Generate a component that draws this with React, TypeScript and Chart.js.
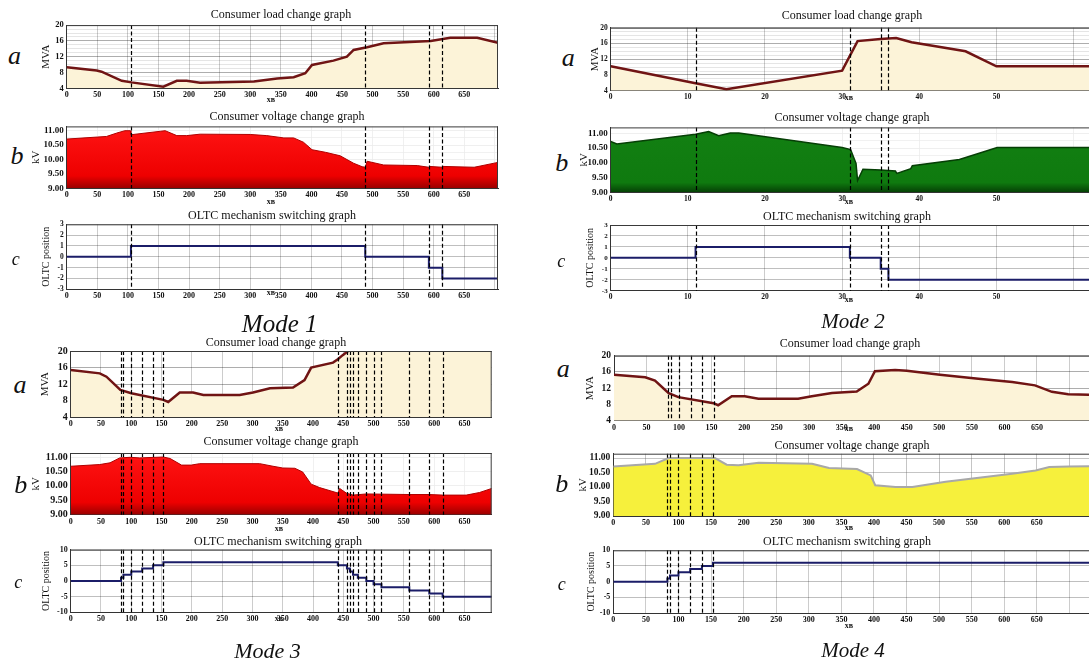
import React, { useEffect, useRef } from "react";
import { Chart, registerables } from "chart.js";

Chart.register(...registerables);

const SERIF = "'Liberation Serif', 'Times New Roman', serif";

// ===== Mode 1 =====
const m1LoadX = [0, 49, 57, 90, 106, 158, 180, 196, 218, 306, 344, 371, 390, 401, 436, 458, 469, 491, 518, 595, 627, 671, 705];
const m1LoadY = [9.3, 8.5, 8.2, 5.9, 5.5, 4.4, 5.9, 5.9, 5.4, 5.7, 6.5, 6.8, 7.8, 9.9, 11.0, 12.0, 13.7, 14.4, 15.4, 16.0, 16.8, 16.8, 15.5];
const m1VoltX = [0, 50, 65, 82, 95, 104, 105, 153, 161, 180, 196, 218, 300, 327, 355, 371, 387, 401, 423, 447, 469, 483, 488, 491, 518, 573, 592, 593, 614, 615, 666, 705];
const m1VoltY = [10.71, 10.78, 10.8, 10.92, 11.0, 11.0, 10.86, 10.98, 11.0, 10.83, 10.83, 10.88, 10.87, 10.83, 10.75, 10.75, 10.6, 10.34, 10.25, 10.13, 9.87, 9.75, 9.73, 9.94, 9.81, 9.79, 9.73, 9.76, 9.73, 9.76, 9.73, 9.9];
const m1Switch = [105, 488, 592, 614];
const m1Tap = [1, 0, -1, -2];

// ===== Mode 2 =====
const m2LoadX = [0, 11, 15, 30, 32, 35, 37, 39, 46, 50, 62];
const m2LoadY = [10.2, 5.9, 4.4, 9.1, 16.6, 17.1, 17.4, 16.3, 14.0, 10.2, 10.2];
const m2VoltX = [0, 0.8, 11, 12.7, 14, 15.5, 16.6, 30, 31.1, 31.8, 32, 32.7, 35, 36.9, 37.1, 38.9, 39.1, 45.2, 50.1, 62];
const m2VoltY = [10.72, 10.64, 10.97, 11.06, 10.92, 11.01, 11.01, 10.52, 10.45, 9.98, 9.4, 9.78, 9.76, 9.72, 9.64, 9.8, 9.9, 10.11, 10.52, 10.52];
const m2Switch = [11, 31, 35, 36];
const m2Tap = [1, 0, -1, -2];

// ===== Mode 3 =====
const m3LoadX = [0, 48, 59, 82, 100, 153, 161, 180, 202, 219, 279, 301, 329, 367, 386, 397, 433, 441, 449, 458, 480, 695];
const m3LoadY = [15.4, 14.6, 13.8, 10.6, 9.8, 8.2, 7.7, 10.0, 10.0, 9.4, 9.4, 10.0, 11.0, 11.2, 13.0, 16.0, 17.2, 18.0, 19.0, 20.0, 21.5, 22.0];
const m3VoltX = [0, 48, 65, 81, 98, 114, 153, 164, 183, 199, 213, 312, 334, 350, 370, 383, 397, 411, 438, 441, 444, 455, 466, 488, 559, 592, 614, 653, 675, 695];
const m3VoltY = [10.68, 10.74, 10.8, 10.97, 10.99, 10.97, 11.0, 10.95, 10.72, 10.72, 10.77, 10.77, 10.68, 10.62, 10.61, 10.48, 10.06, 9.94, 9.77, 9.75, 9.91, 9.75, 9.68, 9.72, 9.7, 9.7, 9.68, 9.68, 9.77, 9.91];
const m3Switch = [83, 87, 100, 118, 136, 153, 441, 456, 461, 466, 474, 488, 500, 513, 559, 592, 614];
const m3Tap = [1, 2, 3, 4, 5, 6, 5, 4, 3, 2, 1, 0, -1, -2, -3, -4, -5];

// ===== Mode 4 =====
const m4LoadX = [0, 48, 63, 84, 99, 153, 160, 181, 201, 222, 283, 304, 335, 373, 391, 401, 432, 450, 501, 560, 612, 647, 673, 698, 730];
const m4LoadY = [15.3, 14.7, 13.9, 10.8, 9.8, 8.3, 7.8, 10.0, 10.0, 9.4, 9.4, 10.0, 10.8, 11.2, 13.1, 16.2, 16.5, 16.3, 15.3, 14.3, 13.5, 12.7, 11.1, 10.5, 10.4];
const m4VoltX = [0, 64, 85, 156, 174, 192, 223, 305, 331, 374, 395, 402, 433, 459, 510, 612, 648, 669, 699, 730];
const m4VoltY = [10.71, 10.8, 11.0, 11.0, 10.77, 10.75, 10.84, 10.8, 10.66, 10.62, 10.4, 10.06, 10.0, 10.0, 10.18, 10.46, 10.57, 10.69, 10.71, 10.72];
const m4Switch = [83, 87, 100, 118, 136, 153];
const m4Tap = [1, 2, 3, 4, 5, 6];

const TITLE_LOAD = "Consumer load change graph";
const TITLE_VOLT = "Consumer voltage change graph";
const TITLE_TAP = "OLTC mechanism switching graph";
const X_UNIT = "хв";

type Kind = "load" | "volt" | "tap";
interface Spec {
  kind: Kind;
  box: [number, number, number, number];
  titleX: number;
  head: [number, number];
  unit: [number, number];
  xMax: number; xStep: number; xLabelMax: number;
  yMin: number; yMax: number; yStep: number; yLabelStep: number;
  xFont: number; yFont: number;
  xs: number[]; ys: number[];
  switches: number[];
  line: string; lineW: number;
  fill: [number, string][] | null;
  gridX: string; gridMajor: string; gridMinor: string;
}

const tapSeries = (sw: number[], tap: number[], xMax: number) => ({
  xs: [0, ...sw, xMax],
  ys: [0, ...tap, tap[tap.length - 1]],
});

const CREAM: [number, string][] = [[0, "#fcf3d8"], [1, "#fcf3d8"]];
const RED: [number, string][] = [[0, "#ff1414"], [0.8, "#ee0000"], [1, "#9a0000"]];
const GREEN: [number, string][] = [[0, "#0c6e0c"], [0.15, "#127f12"], [0.85, "#0f7a0f"], [1, "#054005"]];
const YELLOW: [number, string][] = [[0, "#f6f03c"], [1, "#f6f03c"]];

const loadBase = { kind: "load" as Kind, yMin: 4, yMax: 20, yLabelStep: 4, line: "#701414", lineW: 2.5, fill: CREAM,
  gridX: "rgba(0,0,0,0.2)", gridMajor: "rgba(0,0,0,0.32)", gridMinor: "rgba(0,0,0,0.1)" };
const voltBase = { kind: "volt" as Kind, yMin: 9, yLabelStep: 0.5 };
const tapBase = { kind: "tap" as Kind, line: "#1b1d68", lineW: 2, fill: null,
  gridX: "rgba(0,0,0,0.2)", gridMajor: "rgba(0,0,0,0.25)", gridMinor: "rgba(0,0,0,0.25)" };
const whiteGrid = { gridX: "rgba(235,235,235,0.75)", gridMajor: "rgba(235,235,235,0.8)", gridMinor: "rgba(235,235,235,0.7)" };

const m1t = tapSeries(m1Switch, m1Tap, 705);
const m2t = tapSeries(m2Switch, m2Tap, 62);
const m3t = tapSeries(m3Switch, m3Tap, 695);
const m4t = tapSeries(m4Switch, m4Tap, 730);

const SPECS: Spec[] = [
  // Mode 1
  { ...loadBase, box: [66.7, 25, 498, 88.3], titleX: 47.5, head: [281, 14], unit: [271, 100],
    xMax: 705, xStep: 50, xLabelMax: 650, yStep: 1, xFont: 8, yFont: 8.5,
    xs: m1LoadX, ys: m1LoadY, switches: m1Switch },
  { ...voltBase, ...whiteGrid, box: [66.7, 126, 498, 188.3], titleX: 37.5, head: [287, 116], unit: [271, 202],
    xMax: 705, xStep: 50, xLabelMax: 650, yMax: 11.15, yStep: 0.25, xFont: 8, yFont: 9,
    xs: m1VoltX, ys: m1VoltY, switches: m1Switch, line: "#b00000", lineW: 1, fill: RED },
  { ...tapBase, box: [66.7, 224.3, 498, 289.3], titleX: 46, head: [272, 215], unit: [271, 293],
    xMax: 705, xStep: 50, xLabelMax: 650, yMin: -3, yMax: 3, yStep: 1, yLabelStep: 1, xFont: 8, yFont: 7.5,
    xs: m1t.xs, ys: m1t.ys, switches: m1Switch },
  // Mode 2
  { ...loadBase, box: [610.7, 27.7, 1089, 90.7], titleX: 596, head: [852, 15], unit: [849, 98],
    xMax: 62, xStep: 10, xLabelMax: 50, yStep: 1, xFont: 7.5, yFont: 7.5,
    xs: m2LoadX, ys: m2LoadY, switches: m2Switch },
  { ...voltBase, ...whiteGrid, box: [610.7, 127.3, 1089, 192.3], titleX: 585, head: [852, 117], unit: [849, 202],
    xMax: 62, xStep: 10, xLabelMax: 50, yMax: 11.2, yStep: 0.25, xFont: 7.5, yFont: 9,
    xs: m2VoltX, ys: m2VoltY, switches: m2Switch, line: "#063f06", lineW: 1.5, fill: GREEN },
  { ...tapBase, box: [610.7, 225, 1089, 290.7], titleX: 590.5, head: [847, 216], unit: [849, 300],
    xMax: 62, xStep: 10, xLabelMax: 50, yMin: -3, yMax: 3, yStep: 1, yLabelStep: 1, xFont: 7.5, yFont: 7,
    xs: m2t.xs, ys: m2t.ys, switches: m2Switch },
  // Mode 3
  { ...loadBase, box: [70.7, 350.7, 491.7, 417.3], titleX: 46, head: [276, 342], unit: [279, 429],
    xMax: 695, xStep: 50, xLabelMax: 650, yStep: 4, xFont: 8, yFont: 10,
    xs: m3LoadX, ys: m3LoadY, switches: m3Switch },
  { ...voltBase, ...whiteGrid, box: [70.7, 452.7, 491.7, 514.7], titleX: 37, head: [281, 441], unit: [279, 529],
    xMax: 695, xStep: 50, xLabelMax: 650, yMax: 11.14, yStep: 0.5, xFont: 8, yFont: 10,
    xs: m3VoltX, ys: m3VoltY, switches: m3Switch, line: "#b00000", lineW: 1, fill: RED },
  { ...tapBase, box: [70.7, 549.7, 491.7, 612.3], titleX: 46, head: [278, 541], unit: [279, 619],
    xMax: 695, xStep: 50, xLabelMax: 650, yMin: -10, yMax: 10, yStep: 5, yLabelStep: 5, xFont: 8, yFont: 8,
    xs: m3t.xs, ys: m3t.ys, switches: m3Switch },
  // Mode 4
  { ...loadBase, box: [614, 355, 1089, 420.7], titleX: 591, head: [850, 343], unit: [849, 429],
    xMax: 730, xStep: 50, xLabelMax: 650, yStep: 4, xFont: 8, yFont: 9.5,
    xs: m4LoadX, ys: m4LoadY, switches: m4Switch },
  { ...voltBase, box: [613.3, 453.7, 1089, 516], titleX: 584, head: [852, 445], unit: [849, 528],
    xMax: 730, xStep: 50, xLabelMax: 650, yMax: 11.15, yStep: 0.5, xFont: 8, yFont: 9.5,
    xs: m4VoltX, ys: m4VoltY, switches: m4Switch, line: "#a8a8a8", lineW: 2, fill: YELLOW,
    gridX: "rgba(90,90,90,0.35)", gridMajor: "rgba(90,90,90,0.35)", gridMinor: "rgba(90,90,90,0.35)" },
  { ...tapBase, box: [613.3, 550.3, 1089, 613], titleX: 591, head: [847, 541], unit: [849, 626],
    xMax: 730, xStep: 50, xLabelMax: 650, yMin: -10, yMax: 10, yStep: 5, yLabelStep: 5, xFont: 8, yFont: 8,
    xs: m4t.xs, ys: m4t.ys, switches: m4Switch },
] as Spec[];

const HEADS: Record<Kind, string> = { load: TITLE_LOAD, volt: TITLE_VOLT, tap: TITLE_TAP };
const YTITLE: Record<Kind, [string, number]> = { load: ["MVA", 11], volt: ["kV", 11], tap: ["OLTC position", 10] };

const overlayPlugin = {
  id: "overlay",
  afterDraw(chart: any, _a: any, opts: any) {
    const { ctx, chartArea: a, scales } = chart;
    ctx.save();
    ctx.strokeStyle = "#000";
    ctx.lineWidth = 1.2;
    ctx.setLineDash([4, 2.5]);
    (opts.switches || []).forEach((v: number) => {
      const x = Math.round(scales.x.getPixelForValue(v)) + 0.5;
      ctx.beginPath();
      ctx.moveTo(x, a.top);
      ctx.lineTo(x, a.bottom);
      ctx.stroke();
    });
    ctx.setLineDash([]);
    ctx.strokeStyle = "#3a3a3a";
    ctx.lineWidth = 1;
    ctx.beginPath();
    ctx.moveTo(a.left, a.top + 0.5);
    ctx.lineTo(a.right, a.top + 0.5);
    if (opts.rightBorder) {
      ctx.moveTo(a.right - 0.5, a.top);
      ctx.lineTo(a.right - 0.5, a.bottom);
    }
    ctx.stroke();
    ctx.restore();
  },
};

function geometry(s: Spec) {
  const [l, t, r, b] = s.box;
  const lh = YTITLE[s.kind][1] * 1.2;
  const left = Math.floor(s.titleX - lh / 2);
  const top = Math.floor(t - 8);
  const edge = r >= 1088;
  const W = (edge ? 1089 : Math.ceil(r + 2)) - left;
  const H = Math.ceil(b + 15) - top;
  return { left, top, W, H, edge, yW: l - left, padT: t - top, padR: W - (r - left), xH: H - (b - top) };
}

const near = (v: number, base: number, step: number) => {
  const k = (v - base) / step;
  return Math.abs(k - Math.round(k)) < 1e-6;
};

function buildConfig(s: Spec, g: ReturnType<typeof geometry>): any {
  const dec = s.kind === "volt" ? 2 : 0;
  const stops = s.fill;
  const bg = stops
    ? (c: any) => {
        const a = c.chart.chartArea;
        if (!a) return stops[0][1];
        const gr = c.chart.ctx.createLinearGradient(0, a.top, 0, a.bottom);
        stops.forEach(([p, col]) => gr.addColorStop(p, col));
        return gr;
      }
    : "transparent";
  return {
    type: "line",
    data: {
      datasets: [
        {
          data: s.xs.map((x, i) => ({ x, y: s.ys[i] })),
          borderColor: s.line,
          borderWidth: s.lineW,
          backgroundColor: bg,
          fill: stops ? "start" : false,
          pointRadius: 0,
          tension: 0,
          stepped: s.kind === "tap" ? "before" : false,
        },
      ],
    },
    plugins: [overlayPlugin],
    options: {
      animation: false,
      responsive: false,
      maintainAspectRatio: false,
      events: [],
      layout: { padding: { top: g.padT, right: g.padR, left: 0, bottom: 0 } },
      plugins: {
        legend: { display: false },
        tooltip: { enabled: false },
        title: { display: false },
        overlay: { switches: s.switches, rightBorder: !g.edge },
      },
      scales: {
        x: {
          type: "linear",
          min: 0,
          max: s.xMax,
          z: 1,
          afterFit: (sc: any) => { sc.height = g.xH; },
          grid: { color: s.gridX, drawTicks: false },
          border: { color: "#333" },
          ticks: {
            stepSize: s.xStep,
            includeBounds: false,
            autoSkip: false,
            maxRotation: 0,
            padding: 2,
            color: "#111",
            font: { family: SERIF, size: s.xFont, weight: "bold" },
            callback: (v: number) => (v <= s.xLabelMax + 1e-6 ? String(v) : ""),
          },
        },
        y: {
          type: "linear",
          min: s.yMin,
          max: s.yMax,
          z: 1,
          afterFit: (sc: any) => { sc.width = g.yW; },
          grid: {
            drawTicks: false,
            color: (c: any) => (c.tick && near(c.tick.value, s.yMin, s.yLabelStep) ? s.gridMajor : s.gridMinor),
          },
          border: { color: "#333" },
          title: {
            display: true,
            text: YTITLE[s.kind][0],
            color: "#111",
            padding: 0,
            font: { family: SERIF, size: YTITLE[s.kind][1] },
          },
          ticks: {
            stepSize: s.yStep,
            includeBounds: false,
            autoSkip: false,
            padding: 3,
            color: "#111",
            font: { family: SERIF, size: s.yFont, weight: "bold" },
            callback: (v: number) =>
              near(v, s.yMin, s.yLabelStep) && v <= s.yMax + 1e-9 ? v.toFixed(dec) : "",
          },
        },
      },
    },
  };
}

function Panel({ spec }: { spec: Spec }) {
  const ref = useRef<HTMLCanvasElement>(null);
  const g = geometry(spec);
  useEffect(() => {
    const chart = new Chart(ref.current as HTMLCanvasElement, buildConfig(spec, g));
    return () => chart.destroy();
  }, []);
  return (
    <canvas
      ref={ref}
      width={g.W}
      height={g.H}
      style={{ position: "absolute", left: g.left, top: g.top, width: g.W, height: g.H }}
    />
  );
}

function Txt(props: { x: number; y: number; size: number; italic?: boolean; bold?: boolean; children: React.ReactNode }) {
  const { x, y, size, italic, bold, children } = props;
  return (
    <div
      style={{
        position: "absolute",
        left: x,
        top: y,
        transform: "translate(-50%, -50%)",
        font: `${italic ? "italic " : ""}${bold ? "bold " : ""}${size}px ${SERIF}`,
        lineHeight: 1,
        whiteSpace: "nowrap",
        color: "#111",
      }}
    >
      {children}
    </div>
  );
}

const LETTERS: [string, number, number, number][] = [
  ["a", 14.5, 55.5, 26], ["b", 17, 156, 26], ["c", 15.7, 258.7, 18],
  ["a", 568.3, 58.3, 26], ["b", 561.7, 163, 26], ["c", 561.3, 260.5, 18],
  ["a", 20, 385, 26], ["b", 20.8, 485, 26], ["c", 18.3, 582, 18],
  ["a", 563.3, 369, 26], ["b", 561.7, 483.7, 26], ["c", 561.7, 583.8, 18],
];
const MODES: [string, number, number, number][] = [
  ["Mode 1", 279.7, 323, 25],
  ["Mode 2", 853, 321, 21],
  ["Mode 3", 267.5, 651, 22],
  ["Mode 4", 853, 649.7, 21],
];

export default function App() {
  return (
    <div style={{ position: "absolute", left: 0, top: 0, width: 1089, height: 659, background: "#fff", overflow: "hidden" }}>
      {SPECS.map((s, i) => (
        <React.Fragment key={i}>
          <Panel spec={s} />
          <Txt x={s.head[0]} y={s.head[1]} size={12}>{HEADS[s.kind]}</Txt>
          <Txt x={s.unit[0]} y={s.unit[1]} size={8} bold>{X_UNIT}</Txt>
        </React.Fragment>
      ))}
      {LETTERS.map(([t, x, y, sz], i) => (
        <Txt key={"l" + i} x={x} y={y} size={sz} italic>{t}</Txt>
      ))}
      {MODES.map(([t, x, y, sz], i) => (
        <Txt key={"m" + i} x={x} y={y} size={sz} italic>{t}</Txt>
      ))}
    </div>
  );
}
